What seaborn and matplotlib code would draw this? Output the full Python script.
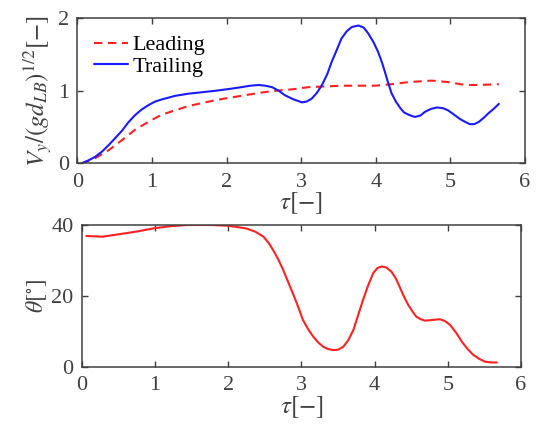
import numpy as np
import pandas as pd
import matplotlib
matplotlib.use("Agg")
import matplotlib.pyplot as plt
import seaborn as sns

# Dimensionless vertical velocity of the leading and trailing bubbles
tau_lead = [0.06, 0.24, 0.42, 0.60, 0.77, 0.95, 1.13, 1.31, 1.49, 1.67, 1.85, 2.07,
            2.20, 2.43, 2.65, 2.88, 3.10, 3.32, 3.55, 3.77, 3.99, 4.21, 4.44, 4.75,
            4.97, 5.20, 5.38, 5.65]
v_lead = [0.00, 0.07, 0.18, 0.32, 0.46, 0.57, 0.67, 0.73, 0.79, 0.83, 0.87, 0.91,
          0.93, 0.97, 1.00, 1.02, 1.05, 1.06, 1.07, 1.07, 1.07, 1.09, 1.12, 1.14,
          1.12, 1.08, 1.08, 1.09]

tau_trail = [0.06, 0.15, 0.24, 0.33, 0.42, 0.51, 0.60, 0.68, 0.77, 0.86, 0.95, 1.04,
             1.13, 1.31, 1.49, 1.67, 1.85, 2.07, 2.20, 2.32, 2.43, 2.52, 2.61, 2.70,
             2.78, 2.90, 2.96, 3.01, 3.07, 3.14, 3.21, 3.28, 3.35, 3.41, 3.48, 3.54,
             3.61, 3.68, 3.77, 3.84, 3.90, 3.97, 4.03, 4.08, 4.12, 4.16, 4.21, 4.27,
             4.33, 4.38, 4.44, 4.49, 4.53, 4.60, 4.66, 4.74, 4.82, 4.90, 4.97, 5.05,
             5.13, 5.20, 5.26, 5.32, 5.38, 5.45, 5.51, 5.58, 5.65]
v_trail = [0.00, 0.04, 0.09, 0.16, 0.25, 0.35, 0.45, 0.56, 0.66, 0.74, 0.80, 0.85,
           0.88, 0.93, 0.96, 0.98, 1.00, 1.03, 1.05, 1.07, 1.08, 1.07, 1.05, 1.00,
           0.94, 0.88, 0.86, 0.84, 0.85, 0.89, 0.97, 1.08, 1.23, 1.40, 1.57, 1.72,
           1.82, 1.88, 1.90, 1.87, 1.79, 1.67, 1.54, 1.40, 1.27, 1.13, 0.97, 0.85,
           0.76, 0.70, 0.67, 0.65, 0.64, 0.66, 0.71, 0.75, 0.77, 0.76, 0.73, 0.67,
           0.61, 0.57, 0.54, 0.54, 0.57, 0.63, 0.69, 0.75, 0.82]

# Inclination angle of the bubble pair (degrees)
tau_theta = [0.06, 0.28, 0.54, 0.76, 0.99, 1.22, 1.45, 1.77, 1.99, 2.13, 2.25, 2.37,
             2.48, 2.55, 2.61, 2.68, 2.75, 2.82, 2.89, 2.96, 3.02, 3.09, 3.16, 3.23,
             3.30, 3.36, 3.43, 3.50, 3.57, 3.64, 3.71, 3.77, 3.84, 3.91, 3.98, 4.04,
             4.10, 4.16, 4.23, 4.29, 4.34, 4.40, 4.46, 4.52, 4.57, 4.63, 4.69, 4.79,
             4.89, 4.96, 5.03, 5.11, 5.19, 5.27, 5.35, 5.43, 5.51, 5.59, 5.67]
theta = [36.9, 36.7, 37.5, 38.2, 39.1, 39.7, 40.0, 40.0, 39.8, 39.4, 39.0, 38.1,
         36.7, 35.0, 33.0, 30.4, 27.3, 23.8, 20.3, 16.6, 13.2, 10.6, 8.5, 6.8,
         5.6, 5.0, 4.7, 4.8, 5.6, 7.5, 10.4, 14.3, 18.8, 22.9, 26.4, 27.9,
         28.3, 28.0, 26.8, 24.9, 22.6, 19.8, 17.4, 15.5, 14.1, 13.4, 13.0, 13.2,
         13.4, 12.9, 11.8, 9.7, 7.1, 5.0, 3.3, 2.2, 1.4, 1.2, 1.2]

x_ticks = [0, 1, 2, 3, 4, 5, 6]
v_ticks = [0, 1, 2]
theta_ticks = [0, 20, 40]

sns.set_theme(style="ticks")
plt.rcParams["font.family"] = ["Liberation Serif", "DejaVu Serif"]
plt.rcParams["mathtext.fontset"] = "stix"
plt.rcParams["axes.edgecolor"] = "#404040"
plt.rcParams["xtick.color"] = "#404040"
plt.rcParams["ytick.color"] = "#404040"
plt.rcParams["axes.labelcolor"] = "#404040"

fig = plt.figure(figsize=(5.39, 4.26), dpi=100)
ax1 = fig.add_axes([0.1434, 0.6167, 0.8306, 0.3404])
ax2 = fig.add_axes([0.1521, 0.1392, 0.8145, 0.3326])

lead = pd.DataFrame({"tau": tau_lead, "v": v_lead})
trail = pd.DataFrame({"tau": tau_trail, "v": v_trail})
ang = pd.DataFrame({"tau": tau_theta, "theta": theta})

sns.lineplot(data=lead, x="tau", y="v", ax=ax1, color="#ff2020", lw=1.5,
             linestyle=(0, (4, 2.7)), label="Leading")
sns.lineplot(data=trail, x="tau", y="v", ax=ax1, color="#1a1aff", lw=1.5,
             label="Trailing")
sns.lineplot(data=ang, x="tau", y="theta", ax=ax2, color="#ff2020", lw=1.5)

for ax, yt in ((ax1, v_ticks), (ax2, theta_ticks)):
    ax.set_xlim(0, 6)
    ax.set_ylim(yt[0], yt[-1])
    ax.set_xticks(x_ticks)
    ax.set_yticks(yt)
    ax.tick_params(direction="in", top=True, right=True, length=4, width=1,
                   labelsize=16)
    ax.tick_params(axis="x", pad=7)
    ax.tick_params(axis="y", pad=6)
    for s in ax.spines.values():
        s.set_visible(True)
        s.set_linewidth(1.1)
    ax.set_xlabel(r"$\tau[-]$", fontsize=18, labelpad=-1)

ax1.set_ylabel(r"$V_y/(gd_{LB})^{1/2}[-]$", fontsize=18, labelpad=2)
ax2.set_ylabel(r"$\theta[^{\circ}]$", fontsize=17, labelpad=2)

leg = ax1.legend(loc="upper left", frameon=False, fontsize=16, handlelength=1.55,
                 handletextpad=0.2, borderaxespad=0.2, labelspacing=0.05,
                 borderpad=0.55)
for t in leg.get_texts():
    t.set_color("black")

fig.savefig("out.png", dpi=100)
